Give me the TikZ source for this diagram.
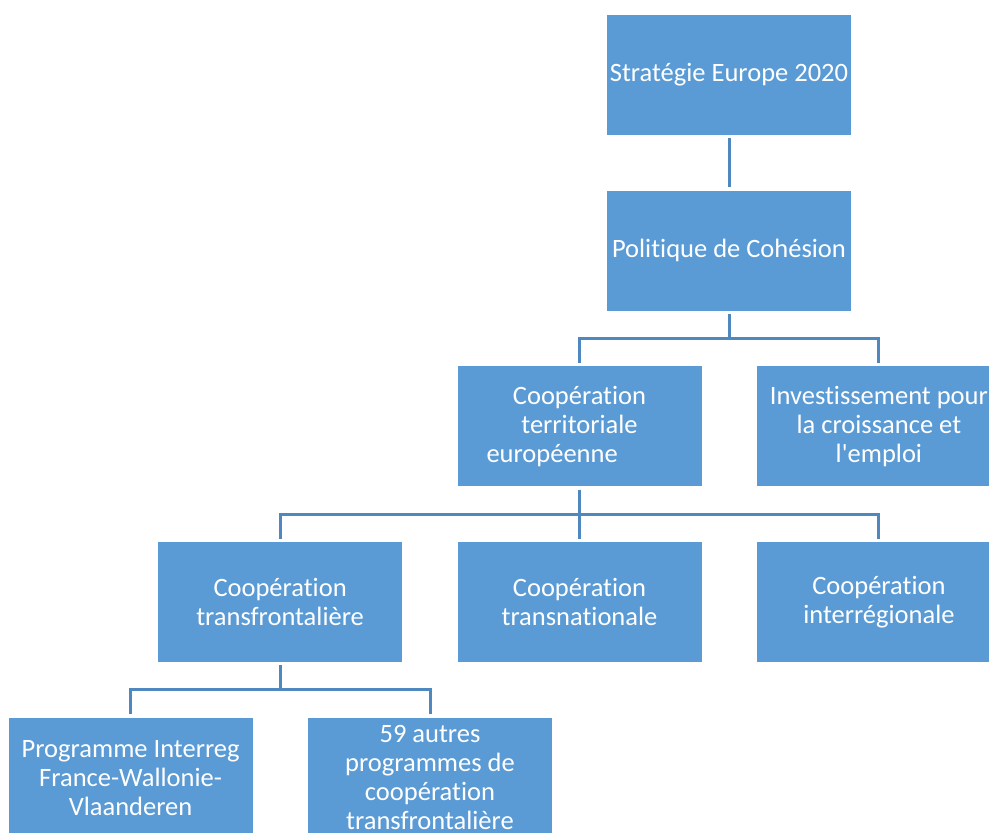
\documentclass[tikz,border=0pt]{standalone}
\usepackage{fontspec}
\setmainfont{Carlito}[RawFeature={-liga;-clig;-dlig;-calt}]
\usetikzlibrary{positioning}
\definecolor{boxblue}{HTML}{5B9BD5}
\definecolor{lineblue}{HTML}{4E88BF}

\begin{document}
\begin{tikzpicture} %
		[
			x=1pt, y=-1pt,
			font={\fontsize{26.5}{29}\selectfont},
			every text node part/.style={align=center},
			box/.style={
				fill=boxblue,
				text=white,
				rectangle,
				minimum width=244pt,
				minimum height=120pt,
				inner sep=0pt,
			},
			link/.style={lineblue, line width=3pt, shorten <=3pt, shorten >=3pt},
			node distance=55.25pt and 55pt,
		]
		\useasboundingbox (0,0) rectangle (989,833);
		\clip (0,0) rectangle (989,833);
		\node[box] (s0) at (729,75) {Stratégie Europe 2020};
		\node[box, below =of s0] (s1) {Politique de Cohésion};
		\node[box, below =of s1, xshift=-149.5pt] (s2)
		{Coopération\\territoriale\\\makebox[186pt][l]{européenne}};
		\node[box, right =of s2] (s3) {Investissement pour\\la croissance et\\l\textquotesingle emploi};
		\node[box, below =of s2] (s5) {Coopération\\transnationale};
		\node[box, left =of s5] (s4) {Coopération\\transfrontalière};
		\node[box, right =of s5] (s6) {Coopération\\interrégionale};
		\node[box, below =of s4, xshift=-149.5pt] (s7) {Programme Interreg\\France-Wallonie-\\Vlaanderen};
		\node[box, right =of s7] (s8) {59 autres\\programmes de\\coopération\\transfrontalière};
		
		\draw[link] (s0) -- (s1);
		
		\draw[link] (s1.south) -- ++(0,28) -| (s2.north);
		\draw[link] (s1.south) -- ++(0,28) -| (s3.north);
		
		\draw[link] (s2.south) -- ++(0,27.5) -| (s4.north);
		\draw[link] (s2.south) -- (s5.north);
		\draw[link] (s2.south) -- ++(0,27.5) -| (s6.north);
		
		\draw[link] (s4.south) -- ++(0,27.5) -| (s7.north);
		\draw[link] (s4.south) -- ++(0,27.5) -| (s8.north);
	\end{tikzpicture}
\end{document}
